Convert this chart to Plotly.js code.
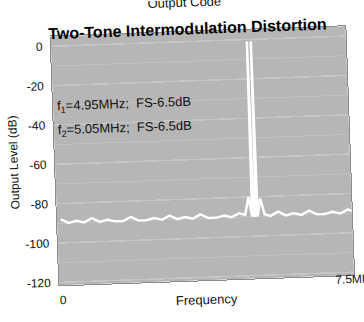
<!DOCTYPE html>
<html>
<head>
<meta charset="utf-8">
<script src="https://cdn.plot.ly/plotly-3.0.1.min.js"></script>
<style>
  html, body { margin: 0; padding: 0; background: #ffffff; overflow: hidden; }
  #chart { width: 364px; height: 322px; transform: rotate(-2deg); transform-origin: 50% 50%; }
</style>
</head>
<body>
<div id="chart"></div>
<script>
// Spectrum (frequency in MHz, level in dB)
var freqMHz = [0, 0.2, 0.4, 0.6, 0.8, 1.0, 1.2, 1.4, 1.6, 1.8, 2.0, 2.2, 2.4, 2.6, 2.8, 3.0,
               3.2, 3.4, 3.6, 3.8, 4.0, 4.2, 4.4, 4.6, 4.75, 4.85, 4.93, 4.95, 4.97, 5.0, 5.03,
               5.05, 5.07, 5.15, 5.25, 5.4, 5.6, 5.8, 6.0, 6.2, 6.4, 6.6, 6.8, 7.0, 7.2, 7.4, 7.5];
var levelDB = [-88, -90, -89, -90, -88, -90, -89, -90, -90, -88, -90, -90, -89, -90, -88, -90,
               -89, -90, -88, -90, -90, -89, -90, -88, -89, -80, -90, -1, -90, -89, -90,
               -1, -90, -81, -89, -90, -88, -90, -89, -90, -88, -90, -90, -89, -90, -88, -89];

var yTickVals = [0, -20, -40, -60, -80, -100, -120];
var yTickText = ["0", "-20", "-40", "-60", "-80", "-100", "-120"];
var xLabelVals = [0, 7.5];
var xLabelText = ["0", "7.5MHz"];
var toneLabels = ["f<sub>1</sub>=4.95MHz;\u00a0\u00a0FS-6.5dB", "f<sub>2</sub>=5.05MHz;\u00a0\u00a0FS-6.5dB"];

var font = "Liberation Sans, Arial, sans-serif";

var trace = {
  x: freqMHz,
  y: levelDB,
  type: "scatter",
  mode: "lines",
  line: { color: "#ffffff", width: 2.5 },
  hoverinfo: "skip"
};

var layout = {
  width: 364,
  height: 322,
  margin: { l: 55, r: 14, t: 32, b: 41 },
  paper_bgcolor: "rgba(0,0,0,0)",
  plot_bgcolor: "#b6b6b6",
  showlegend: false,
  title: {
    text: "<b>Two-Tone Intermodulation Distortion</b>",
    font: { family: font, size: 16, color: "#000000" },
    x: 192 / 364, xanchor: "center",
    y: 1 - 29 / 322, yanchor: "middle",
    xref: "container", yref: "container"
  },
  xaxis: {
    range: [-0.1, 7.5],
    showgrid: false,
    zeroline: false,
    showticklabels: false,
    ticks: "",
    showline: true, mirror: true, linecolor: "#8c8c8c", linewidth: 1
  },
  yaxis: {
    range: [-121.5, 5],
    tickvals: yTickVals,
    ticktext: yTickText,
    ticks: "",
    ticklabelstandoff: 5,
    tickfont: { family: font, size: 12, color: "#111111" },
    showgrid: true, gridcolor: "#c6c6c6", gridwidth: 1.5,
    minor: { dtick: 10, showgrid: true, gridcolor: "#c0c0c0", gridwidth: 1 },
    zeroline: false,
    showline: true, mirror: true, linecolor: "#8c8c8c", linewidth: 1,
    title: { text: "Output Level (dB)", font: { family: font, size: 12, color: "#111111" }, standoff: 1 }
  },
  annotations: [
    { text: xLabelText[0], x: xLabelVals[0], xref: "x", y: -0.06, yref: "paper",
      xanchor: "center", yanchor: "middle", showarrow: false,
      font: { family: font, size: 12, color: "#111111" } },
    { text: xLabelText[1], x: 0.929, xref: "paper", y: -0.016, yref: "paper",
      xanchor: "left", yanchor: "middle", showarrow: false,
      font: { family: font, size: 12, color: "#111111" } },
    { text: "Frequency", x: 0.498, xref: "paper", y: -0.08, yref: "paper",
      xanchor: "center", yanchor: "middle", showarrow: false,
      font: { family: font, size: 13, color: "#111111" } },
    { text: "Output Code", x: 0.458, xref: "paper", y: 1.12, yref: "paper",
      xanchor: "center", yanchor: "middle", showarrow: false,
      font: { family: font, size: 13, color: "#111111" } },
    { text: toneLabels[0], x: 0.008, xref: "paper", y: 0.715, yref: "paper",
      xanchor: "left", yanchor: "middle", showarrow: false,
      font: { family: font, size: 13, color: "#111111" } },
    { text: toneLabels[1], x: 0.008, xref: "paper", y: 0.622, yref: "paper",
      xanchor: "left", yanchor: "middle", showarrow: false,
      font: { family: font, size: 13, color: "#111111" } }
  ]
};

Plotly.newPlot("chart", [trace], layout, { staticPlot: true, displayModeBar: false });
</script>
</body>
</html>
